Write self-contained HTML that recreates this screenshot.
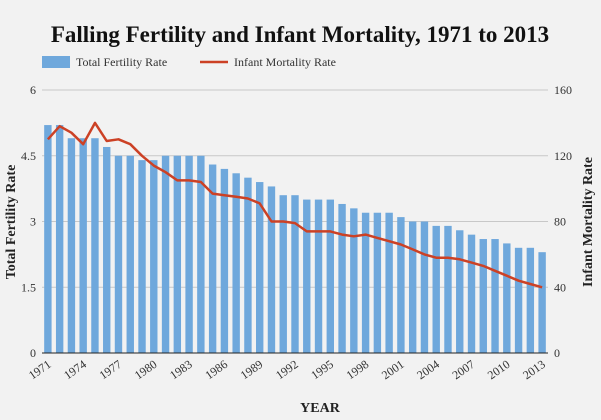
<!DOCTYPE html>
<html><head><meta charset="utf-8"><style>
body{margin:0;background:#f2f2f2;}
svg{display:block;font-family:"Liberation Serif",serif;}
</style></head><body>
<svg id="c" width="601" height="420">
<rect width="601" height="420" fill="#f2f2f2"/>
<text x="300" y="42" text-anchor="middle" font-size="23" font-weight="bold" fill="#111">Falling Fertility and Infant Mortality, 1971 to 2013</text>
<g><rect x="42" y="56" width="28" height="12" fill="#6fa8dc"/><text x="76" y="66" font-size="12" fill="#333">Total Fertility Rate</text></g>
<g><line x1="200" y1="62" x2="228" y2="62" stroke="#cc4125" stroke-width="2.5"/><text x="234" y="66" font-size="12" fill="#333">Infant Mortality Rate</text></g>
<g id="grid"></g><g id="bars"></g><g id="line"></g><g id="axes"></g>
<text x="320" y="412" text-anchor="middle" font-size="14" font-weight="bold" fill="#222">YEAR</text>
<text transform="translate(15,222) rotate(-90)" text-anchor="middle" font-size="14" font-weight="bold" fill="#222">Total Fertility Rate</text>
<text transform="translate(592,222) rotate(-90)" text-anchor="middle" font-size="14" font-weight="bold" fill="#222">Infant Mortality Rate</text>
</svg>
<script>
const years=[];for(let y=1971;y<=2013;y++)years.push(y);
const tfr=[5.2,5.2,4.9,4.9,4.9,4.7,4.5,4.5,4.4,4.4,4.5,4.5,4.5,4.5,4.3,4.2,4.1,4.0,3.9,3.8,3.6,3.6,3.5,3.5,3.5,3.4,3.3,3.2,3.2,3.2,3.1,3.0,3.0,2.9,2.9,2.8,2.7,2.6,2.6,2.5,2.4,2.4,2.3];
const imr=[130,138,134,127,140,129,130,127,120,114,110,105,105,104,97,96,95,94,91,80,80,79,74,74,74,72,71,72,70,68,66,63,60,58,58,57,55,53,50,47,44,42,40];
const leftTicks=[0,1.5,3,4.5,6];
const rightTicks=[0,40,80,120,160];
const NS='http://www.w3.org/2000/svg';
const X0=42,X1=548,Y0=353,Y1=90;
const band=(X1-X0)/years.length;
const xc=i=>X0+band*(i+0.5);
const yl=v=>Y0-(v/6)*(Y0-Y1);
const yr=v=>Y0-(v/160)*(Y0-Y1);
function mk(t,a,p){const e=document.createElementNS(NS,t);for(const k in a)e.setAttribute(k,a[k]);p.appendChild(e);return e;}
const grid=document.getElementById('grid'),axes=document.getElementById('axes');
leftTicks.forEach((v,i)=>{
 const y=yl(v);
 if(v>0){const g=mk('line',{x1:X0,x2:X1,y1:y,y2:y,stroke:'#c8c8c8','stroke-width':1},grid);
 
 }
 const t=mk('text',{x:36,y:y+4,'text-anchor':'end','font-size':12,fill:'#333'},axes);t.textContent=v;
 
 
});
rightTicks.forEach(v=>{
 const t=mk('text',{x:554,y:yr(v)+4,'font-size':12,fill:'#333'},axes);t.textContent=v;
 
 
});
const bl=mk('line',{x1:X0,x2:X1,y1:Y0,y2:Y0,stroke:'#222','stroke-width':1},axes);


const bars=document.getElementById('bars');
tfr.forEach((v,i)=>{
 const r=mk('rect',{x:xc(i)-3.7,y:yl(v),width:7.4,height:Y0-yl(v),fill:'#6fa8dc'},bars);
 
 
});
const pts=imr.map((v,i)=>xc(i).toFixed(1)+','+yr(v).toFixed(1)).join(' ');
const pl=mk('polyline',{points:pts,fill:'none',stroke:'#cc4125','stroke-width':2.5,'stroke-linejoin':'round'},document.getElementById('line'));


years.forEach((y,i)=>{
 if(i%3!==0)return;
 const x=xc(i);
 const t=mk('text',{x:x+4,y:366,'text-anchor':'end','font-size':12,fill:'#333',transform:`rotate(-35 ${x+4} 366)`},axes);
 t.textContent=y;
 
 
});
</script>
</body></html>
